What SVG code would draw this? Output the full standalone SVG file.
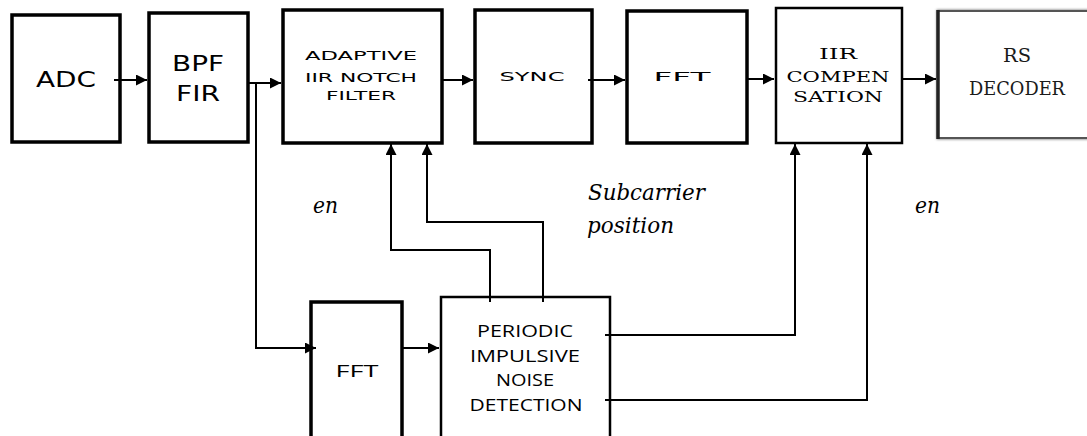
<svg xmlns="http://www.w3.org/2000/svg" width="1087" height="436" viewBox="0 0 1087 436">
<defs>
<marker id="ah" viewBox="0 0 10 10" refX="10" refY="5" markerWidth="11" markerHeight="11" markerUnits="userSpaceOnUse" orient="auto">
<path d="M0,0 L10,5 L0,10 Z" fill="#000"/>
</marker>
<filter id="sh" x="-10%" y="-10%" width="120%" height="120%">
<feGaussianBlur stdDeviation="1.2"/>
</filter>
</defs>
<style>
.box{fill:#fff;stroke:#000;stroke-width:3.5}
.box2{fill:#fff;stroke:#000;stroke-width:2.5}
.sans{font-family:'DejaVu Sans',sans-serif;fill:#000;text-anchor:middle}
.os{font-family:'Open Sans',sans-serif;fill:#000;text-anchor:middle}
.ser{font-family:'DejaVu Serif',serif;fill:#000;text-anchor:middle}
.it{font-family:'DejaVu Serif',serif;font-style:italic;fill:#000;font-size:22px}
.ca{fill:none;stroke:#000;stroke-width:2;marker-end:url(#ah)}
</style>
<rect width="1087" height="436" fill="#fff"/>

<g id="adc">
<rect class="box" x="12" y="15" width="108" height="127"/>
<text class="sans" x="66" y="87" font-size="21" textLength="60" lengthAdjust="spacingAndGlyphs">ADC</text>
</g>
<g id="bpf">
<rect class="box" x="149" y="13" width="99" height="129"/>
<text class="sans" x="198" y="71" font-size="21" textLength="52" lengthAdjust="spacingAndGlyphs">BPF</text>
<text class="sans" x="198" y="101" font-size="21" textLength="44" lengthAdjust="spacingAndGlyphs">FIR</text>
</g>
<g id="adaptive">
<rect class="box" x="283" y="10" width="159" height="133"/>
<text class="sans" x="361" y="60" font-size="12" textLength="112" lengthAdjust="spacingAndGlyphs">ADAPTIVE</text>
<text class="sans" x="361" y="82" font-size="12" textLength="112" lengthAdjust="spacingAndGlyphs">IIR NOTCH</text>
<text class="sans" x="361" y="100" font-size="12" textLength="70" lengthAdjust="spacingAndGlyphs">FILTER</text>
</g>
<g id="sync">
<rect class="box" x="475" y="10" width="117" height="133"/>
<text class="sans" x="532" y="81" font-size="12" textLength="65" lengthAdjust="spacingAndGlyphs">SYNC</text>
</g>
<g id="fft1">
<rect class="box" x="627" y="11" width="120" height="132"/>
<text class="sans" x="682" y="81" font-size="12" textLength="57" lengthAdjust="spacingAndGlyphs">FFT</text>
</g>
<g id="iircomp">
<rect class="box2" x="776" y="8" width="126" height="135"/>
<text class="ser" x="838" y="59" font-size="15" textLength="38" lengthAdjust="spacingAndGlyphs">IIR</text>
<text class="ser" x="838" y="82" font-size="15" textLength="103" lengthAdjust="spacingAndGlyphs">COMPEN</text>
<text class="ser" x="838" y="102" font-size="15" textLength="90" lengthAdjust="spacingAndGlyphs">SATION</text>
</g>
<g id="rsdecoder">
<rect x="938" y="11" width="160" height="127" fill="none" stroke="#888" stroke-width="3" filter="url(#sh)"/>
<rect x="938" y="11" width="160" height="127" fill="#fff" stroke="#555" stroke-width="2"/>
<line x1="938" y1="10" x2="938" y2="139" stroke="#222" stroke-width="3.5"/>
<text class="ser" x="1017" y="62" font-size="18" style="fill:#1a1a1a" textLength="28" lengthAdjust="spacingAndGlyphs">RS</text>
<text class="ser" x="1017" y="95" font-size="18" style="fill:#1a1a1a" textLength="96" lengthAdjust="spacingAndGlyphs">DECODER</text>
</g>
<g id="fft2">
<path class="box" d="M311,440 V302 H402 V440" fill="#fff"/>
<text class="os" x="357" y="377" font-size="17" textLength="43" lengthAdjust="spacingAndGlyphs">FFT</text>
</g>
<g id="pind">
<path d="M441,440 V297 H610 V440" fill="#fff" stroke="#000" stroke-width="2.5"/>
<text class="os" x="525" y="337" font-size="17" textLength="96" lengthAdjust="spacingAndGlyphs">PERIODIC</text>
<text class="os" x="525" y="362" font-size="17" textLength="110" lengthAdjust="spacingAndGlyphs">IMPULSIVE</text>
<text class="os" x="525" y="386" font-size="17" textLength="58" lengthAdjust="spacingAndGlyphs">NOISE</text>
<text class="os" x="526" y="411" font-size="17" textLength="113" lengthAdjust="spacingAndGlyphs">DETECTION</text>
</g>

<g id="connectors">
<line class="ca" x1="114" y1="80" x2="147" y2="80"/>
<line class="ca" x1="248" y1="83" x2="281" y2="83"/>
<polyline class="ca" points="256,83 256,348 316,348"/>
<line class="ca" x1="442" y1="80" x2="473" y2="80"/>
<line class="ca" x1="588" y1="80" x2="625" y2="80"/>
<line class="ca" x1="748" y1="79" x2="774" y2="79"/>
<line class="ca" x1="902" y1="79" x2="936" y2="79"/>
<line class="ca" x1="402" y1="348" x2="439" y2="348"/>
<polyline class="ca" points="490,302 490,250 391,250 391,144"/>
<polyline class="ca" points="543,302 543,222 427,222 427,144"/>
<polyline class="ca" points="605,335 795,335 795,144"/>
<polyline class="ca" points="605,400 867,400 867,144"/>
</g>

<g id="labels">
<text class="it" x="313" y="213" textLength="25" lengthAdjust="spacingAndGlyphs">en</text>
<text class="it" x="588" y="200" textLength="117" lengthAdjust="spacingAndGlyphs">Subcarrier</text>
<text class="it" x="587" y="233" textLength="87" lengthAdjust="spacingAndGlyphs">position</text>
<text class="it" x="915" y="213" textLength="25" lengthAdjust="spacingAndGlyphs">en</text>
</g>
</svg>
